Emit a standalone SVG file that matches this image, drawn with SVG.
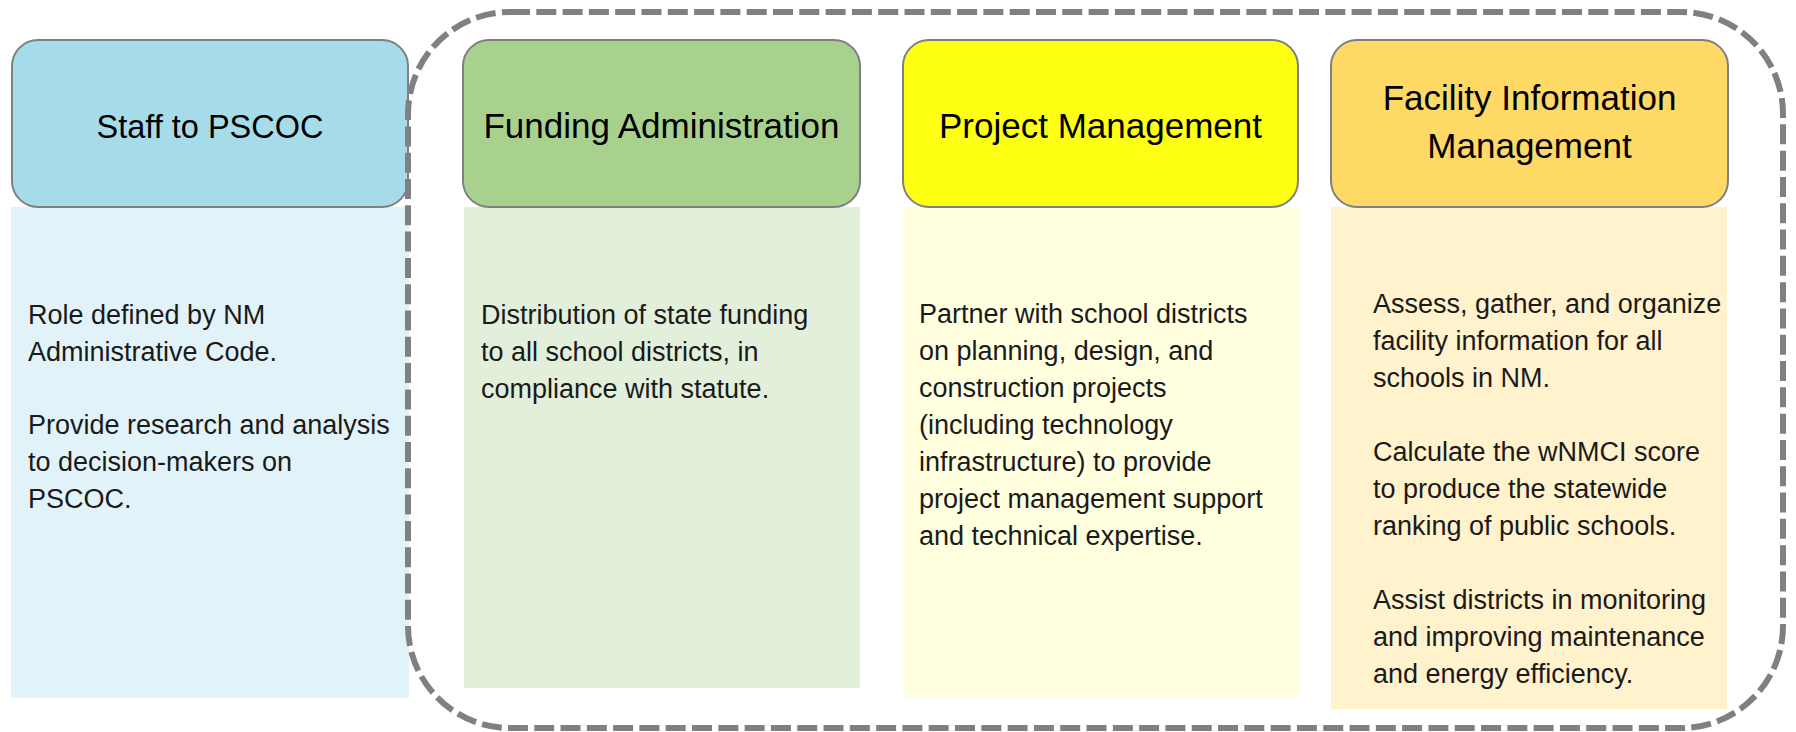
<svg xmlns="http://www.w3.org/2000/svg" width="1796" height="732" viewBox="0 0 1796 732">
<style>
.hdr{stroke:#7f7f7f;stroke-width:2}
.ht{font-family:"Liberation Sans",Arial,sans-serif;font-size:35px;fill:#000;text-anchor:middle}
.bt{font-family:"Liberation Sans",Arial,sans-serif;font-size:27px;fill:#1a1a1a}
.frame{fill:none;stroke:#808080;stroke-width:6;stroke-dasharray:20 6.3}
</style>
<rect width="1796" height="732" fill="#ffffff"/>
<g id="staff">
<rect x="11" y="207" width="398" height="491" fill="#e1f3f8"/>
<rect class="hdr" x="12" y="40" width="396" height="167" rx="26" fill="#a6dce9"/>
<text class="ht" x="210" y="138" style="font-size:32.5px">Staff to PSCOC</text>
<text class="bt" x="28"><tspan x="28" y="324">Role defined by NM</tspan><tspan x="28" y="361">Administrative Code.</tspan><tspan x="28" y="434">Provide research and analysis</tspan><tspan x="28" y="471">to decision-makers on</tspan><tspan x="28" y="508">PSCOC.</tspan></text>
</g>
<g id="funding">
<rect x="464" y="207" width="396" height="481" fill="#e2efda"/>
<rect class="hdr" x="463" y="40" width="397" height="167" rx="26" fill="#a9d18e"/>
<text class="ht" x="661.5" y="138">Funding Administration</text>
<text class="bt"><tspan x="481" y="324">Distribution of state funding</tspan><tspan x="481" y="361">to all school districts, in</tspan><tspan x="481" y="397.5">compliance with statute.</tspan></text>
</g>
<g id="project">
<rect x="903" y="207" width="396" height="491" fill="#ffffe0"/>
<rect class="hdr" x="903" y="40" width="395" height="167" rx="26" fill="#ffff14"/>
<text class="ht" x="1100.5" y="138">Project Management</text>
<text class="bt"><tspan x="919" y="323">Partner with school districts</tspan><tspan x="919" y="360">on planning, design, and</tspan><tspan x="919" y="397">construction projects</tspan><tspan x="919" y="434">(including technology</tspan><tspan x="919" y="471">infrastructure) to provide</tspan><tspan x="919" y="508">project management support</tspan><tspan x="919" y="545">and technical expertise.</tspan></text>
</g>
<g id="facility">
<rect x="1331" y="207" width="396" height="502" fill="#fff2cc"/>
<rect class="hdr" x="1331" y="40" width="397" height="167" rx="26" fill="#ffd966"/>
<text class="ht"><tspan x="1529.5" y="110">Facility Information</tspan><tspan x="1529.5" y="158">Management</tspan></text>
<text class="bt"><tspan x="1373" y="313">Assess, gather, and organize</tspan><tspan x="1373" y="350">facility information for all</tspan><tspan x="1373" y="387">schools in NM.</tspan><tspan x="1373" y="461">Calculate the wNMCI score</tspan><tspan x="1373" y="498">to produce the statewide</tspan><tspan x="1373" y="535">ranking of public schools.</tspan><tspan x="1373" y="609">Assist districts in monitoring</tspan><tspan x="1373" y="646">and improving maintenance</tspan><tspan x="1373" y="683">and energy efficiency.</tspan></text>
</g>
<g id="connectors">
<rect class="frame" x="408" y="12" width="1375" height="716" rx="102"/>
</g>
</svg>
